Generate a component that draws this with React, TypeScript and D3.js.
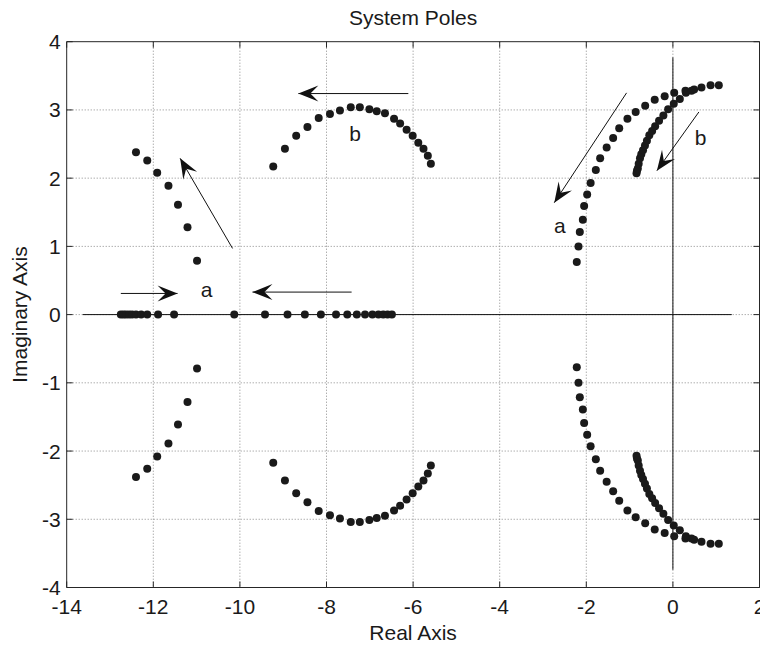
import React from "react";
import * as d3 from "d3";

// ---- data ----
const xTicks = [-14, -12, -10, -8, -6, -4, -2, 0, 2];
const yTicks = [-4, -3, -2, -1, 0, 1, 2, 3, 4];

// real-axis poles
const realPoles = [-12.75, -12.69, -12.63, -12.56, -12.49, -12.4, -12.28, -12.14, -11.89, -11.52, -10.13,
  -9.42, -8.9, -8.5, -8.13, -7.78, -7.52, -7.3, -7.11, -6.94, -6.8, -6.69, -6.59, -6.49];

// left complex branch "a" (upper half; lower half is the conjugate)
const leftRe = [-12.4, -12.14, -11.91, -11.65, -11.43, -11.21, -10.99];
const leftIm = [2.38, 2.26, 2.08, 1.89, 1.61, 1.28, 0.79];

// arc branch "b"
const arcRe = [-9.23, -8.96, -8.7, -8.44, -8.18, -7.92, -7.69, -7.44, -7.23, -7.01, -6.84, -6.65, -6.44, -6.3, -6.15, -6.01, -5.88, -5.76, -5.66, -5.59];
const arcIm = [2.17, 2.43, 2.62, 2.75, 2.88, 2.94, 2.99, 3.04, 3.04, 3.01, 2.98, 2.95, 2.87, 2.8, 2.71, 2.62, 2.52, 2.43, 2.33, 2.21];

// right branch "a"
const rightARe = [-2.22, -2.18, -2.15, -2.08, -2.05, -1.98, -1.9, -1.78, -1.68, -1.53, -1.38, -1.24, -1.05, -0.86, -0.64, -0.42, -0.19, 0.03, 0.29, 0.49, 0.66, 0.87, 1.06];
const rightAIm = [0.77, 1.0, 1.21, 1.39, 1.59, 1.76, 1.93, 2.12, 2.29, 2.45, 2.59, 2.73, 2.87, 2.97, 3.06, 3.15, 3.2, 3.25, 3.28, 3.3, 3.33, 3.36, 3.36];

// right branch "b"
const rightBRe = [-0.84, -0.83, -0.81, -0.79, -0.76, -0.73, -0.69, -0.645, -0.6, -0.545, -0.48, -0.41, -0.32, -0.22, -0.11, 0.02, 0.16, 0.3, 0.43];
const rightBIm = [2.07, 2.11, 2.14, 2.21, 2.29, 2.35, 2.41, 2.48, 2.55, 2.63, 2.69, 2.76, 2.84, 2.92, 3.01, 3.09, 3.16, 3.25, 3.28];

// annotation arrows [x1, y1, x2(tip), y2(tip)] in data units
const arrows = [
  [-10.17, 0.97, -11.38, 2.29],
  [-12.75, 0.31, -11.44, 0.31],
  [-7.42, 0.33, -9.71, 0.33],
  [-6.11, 3.24, -8.65, 3.24],
  [-1.07, 3.25, -2.74, 1.64],
  [0.6, 2.97, -0.37, 2.11],
];
const labelText = ["a", "b", "a", "b"];
const labelPos = [[-10.77, 0.37], [-7.34, 2.66], [-2.61, 1.31], [0.64, 2.6]];

// root-locus axis lines
const realAxisExtent = [-13.63, 1.36];
const imagAxisExtent = [-3.74, 3.77];

const W = 760, H = 645;
const FONT = "Arial, 'Liberation Sans', Helvetica, sans-serif";

export default function App() {
  const x = d3.scaleLinear().domain([-14, 2]).range([66.7, 759.5]);
  const y = d3.scaleLinear().domain([-4, 4]).range([587.5, 41.7]);

  const pairs = (re: number[], im: number[]) =>
    re.flatMap((r, i) => [[r, im[i]], [r, -im[i]]]);
  const poles: number[][] = [
    ...realPoles.map((r) => [r, 0]),
    ...pairs(leftRe, leftIm),
    ...pairs(arcRe, arcIm),
    ...pairs(rightARe, rightAIm),
    ...pairs(rightBRe, rightBIm),
  ];

  const [x0, x1] = x.range();
  const [yb, yt] = y.range();
  const tickLen = 6;
  const axisColor = "#262626";

  const arrowHead = (ax: number, ay: number, bx: number, by: number) => {
    const ang = Math.atan2(by - ay, bx - ax);
    const L = 20, Wd = 16, N = 0.6;
    const pts = [
      [0, 0],
      [-L, Wd / 2],
      [-L * N, 0],
      [-L, -Wd / 2],
    ].map(([px, py]) => [
      bx + px * Math.cos(ang) - py * Math.sin(ang),
      by + px * Math.sin(ang) + py * Math.cos(ang),
    ]);
    return pts.map((p) => p.join(",")).join(" ");
  };

  return (
    <svg width={W} height={H} style={{ position: "absolute", left: 0, top: 0, background: "#fff" }} fontFamily={FONT}>
      <rect x={0} y={0} width={W} height={H} fill="#fff" />
      {/* grid */}
      <g stroke="#8a8a8a" strokeWidth={1} strokeDasharray="1,2">
        {xTicks.slice(1, -1).map((t) => (
          <line key={"gx" + t} x1={x(t)} x2={x(t)} y1={yt} y2={yb} />
        ))}
        {yTicks.slice(1, -1).map((t) => (
          <line key={"gy" + t} x1={x0} x2={x1} y1={y(t)} y2={y(t)} />
        ))}
      </g>
      {/* axes box */}
      <g stroke={axisColor} strokeWidth={1} fill="none">
        <line x1={x0} x2={x1} y1={yt} y2={yt} />
        <line x1={x0} x2={x1} y1={yb} y2={yb} />
        <line x1={x0} x2={x0} y1={yt} y2={yb} />
        <line x1={x1} x2={x1} y1={yt} y2={yb} />
        {xTicks.map((t) => (
          <g key={"tx" + t}>
            <line x1={x(t)} x2={x(t)} y1={yb} y2={yb - tickLen} />
            <line x1={x(t)} x2={x(t)} y1={yt} y2={yt + tickLen} />
          </g>
        ))}
        {yTicks.map((t) => (
          <g key={"ty" + t}>
            <line x1={x0} x2={x0 + tickLen} y1={y(t)} y2={y(t)} />
            <line x1={x1} x2={x1 - tickLen} y1={y(t)} y2={y(t)} />
          </g>
        ))}
      </g>
      {/* tick labels */}
      <g fontSize={21} fill="#1a1a1a">
        {xTicks.map((t) => (
          <text key={"lx" + t} x={x(t)} y={614} textAnchor="middle">
            {t}
          </text>
        ))}
        {yTicks.map((t) => (
          <text key={"ly" + t} x={x0 - 6} y={y(t)} textAnchor="end" dominantBaseline="central">
            {t}
          </text>
        ))}
      </g>
      {/* root locus axis lines */}
      <g stroke="#111" strokeWidth={1}>
        <line x1={x(realAxisExtent[0])} x2={x(realAxisExtent[1])} y1={y(0)} y2={y(0)} />
        <line x1={x(0)} x2={x(0)} y1={y(imagAxisExtent[0])} y2={y(imagAxisExtent[1])} />
      </g>
      {/* poles */}
      <g fill="#1a1a1a">
        {poles.map(([r, i], k) => (
          <circle key={k} cx={x(r)} cy={y(i)} r={4} />
        ))}
      </g>
      {/* arrows */}
      <g>
        {arrows.map(([ax, ay, bx, by], k) => {
          const X1 = x(ax), Y1 = y(ay), X2 = x(bx), Y2 = y(by);
          return (
            <g key={"ar" + k}>
              <line x1={X1} y1={Y1} x2={X2} y2={Y2} stroke="#111" strokeWidth={1} />
              <polygon points={arrowHead(X1, Y1, X2, Y2)} fill="#111" />
            </g>
          );
        })}
      </g>
      {/* labels */}
      <g fontSize={21} fill="#1a1a1a">
        {labelText.map((s, k) => (
          <text key={"lb" + k} x={x(labelPos[k][0])} y={y(labelPos[k][1])} textAnchor="middle" dominantBaseline="central">
            {s}
          </text>
        ))}
      </g>
      {/* titles */}
      <text x={(x0 + x1) / 2} y={25} textAnchor="middle" fontSize={21} fill="#1a1a1a">
        System Poles
      </text>
      <text x={(x0 + x1) / 2} y={640} textAnchor="middle" fontSize={21} fill="#1a1a1a">
        Real Axis
      </text>
      <text
        transform={`translate(27, ${(yt + yb) / 2}) rotate(-90)`}
        textAnchor="middle"
        fontSize={21}
        fill="#1a1a1a"
      >
        Imaginary Axis
      </text>
    </svg>
  );
}
